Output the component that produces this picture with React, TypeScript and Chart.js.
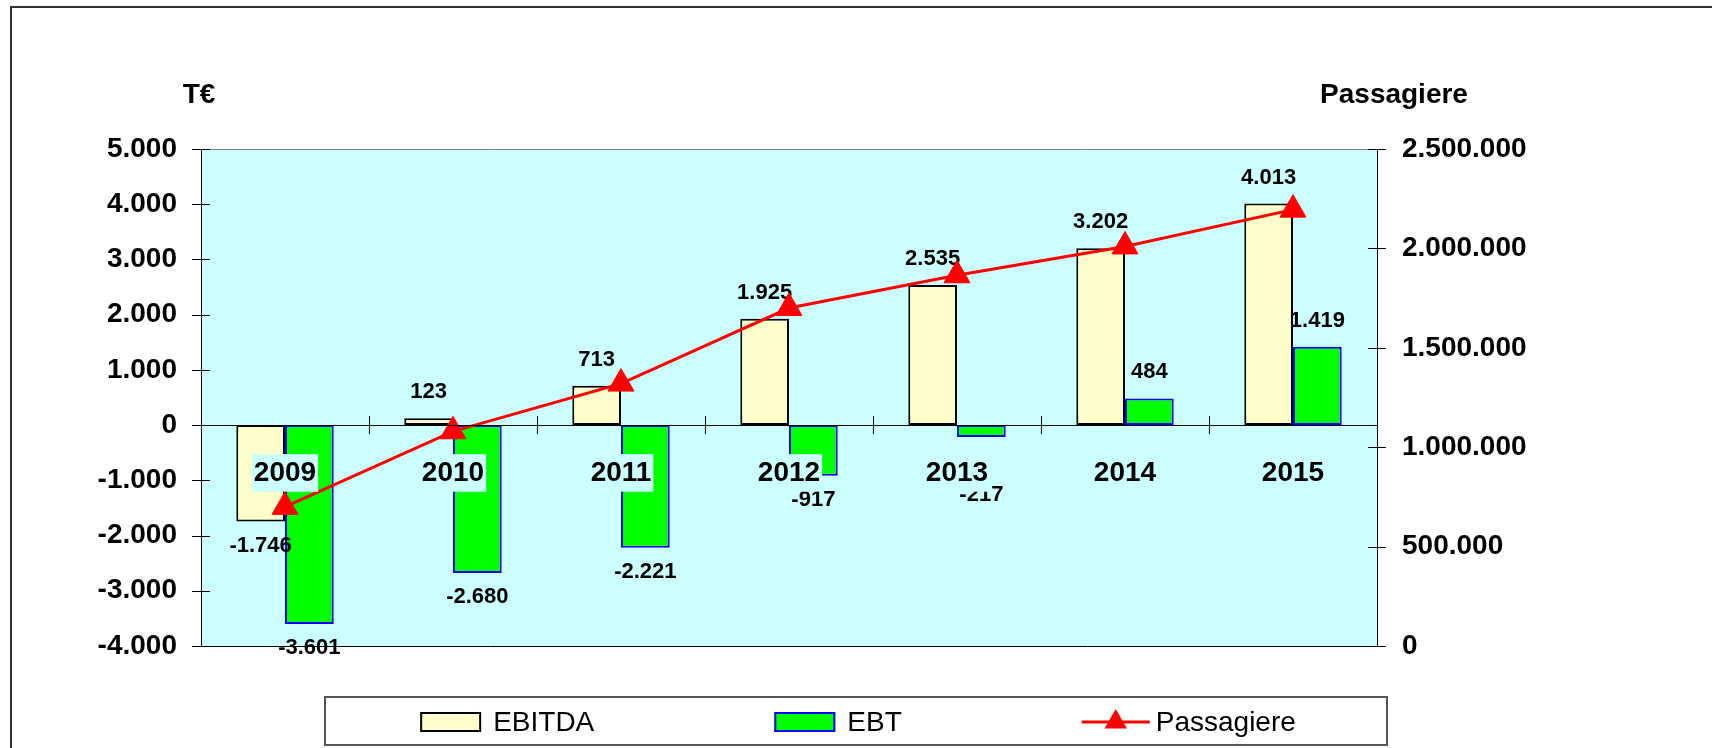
import React, { useEffect, useRef } from 'react';
import { Chart, registerables } from 'chart.js';

Chart.register(...registerables);

// ---- data ----
const categories = ['2009', '2010', '2011', '2012', '2013', '2014', '2015'];
const ebitda = [-1746, 123, 713, 1925, 2535, 3202, 4013];
const ebt = [-3601, -2680, -2221, -917, -217, 484, 1419];
const passagiere = [700000, 1080000, 1320000, 1700000, 1865000, 2010000, 2195000];
const leftAxisRange = [-4000, 5000, 1000];
const rightAxisRange = [0, 2500000, 500000];
const leftTitle = 'T€';
const rightTitle = 'Passagiere';

const FONT = '"Liberation Sans", Arial, Helvetica, sans-serif';
const PLOT_BG = '#CCFFFF';

function fmt(v: number): string {
  const s = Math.round(Math.abs(v)).toString().replace(/\B(?=(\d{3})+(?!\d))/g, '.');
  return (v < 0 ? '-' : '') + s;
}

const framePlugin = {
  id: 'frame',
  beforeDraw(chart: any) {
    const { ctx, chartArea: a, width, height } = chart;
    ctx.save();
    ctx.fillStyle = '#ffffff';
    ctx.fillRect(0, 0, width, height);
    ctx.strokeStyle = '#333333';
    ctx.lineWidth = 2;
    ctx.beginPath();
    ctx.moveTo(11, height + 5);
    ctx.lineTo(11, 7);
    ctx.lineTo(width + 5, 7);
    ctx.stroke();
    ctx.fillStyle = PLOT_BG;
    ctx.fillRect(a.left, a.top, a.right - a.left, a.bottom - a.top);
    ctx.restore();
  },
  afterDraw(chart: any) {
    const { ctx, chartArea: a, scales } = chart;
    ctx.save();
    // top border (gray) and bottom border (black)
    ctx.lineWidth = 1;
    ctx.strokeStyle = '#808080';
    ctx.beginPath();
    ctx.moveTo(a.left - 9, a.top + 0.5);
    ctx.lineTo(a.right + 9, a.top + 0.5);
    ctx.stroke();
    ctx.strokeStyle = '#000000';
    ctx.beginPath();
    ctx.moveTo(a.left - 9, a.bottom + 0.5);
    ctx.lineTo(a.right + 9, a.bottom + 0.5);
    ctx.stroke();
    // crossing tick marks
    const ys = scales.y;
    ys.ticks.forEach((_t: any, i: number) => {
      const py = Math.round(ys.getPixelForTick(i)) + 0.5;
      ctx.beginPath();
      ctx.moveTo(a.left - 9, py);
      ctx.lineTo(a.left + 9, py);
      ctx.stroke();
    });
    const yr = scales.y1;
    yr.ticks.forEach((_t: any, i: number) => {
      const py = Math.round(yr.getPixelForTick(i)) + 0.5;
      ctx.beginPath();
      ctx.moveTo(a.right - 9, py);
      ctx.lineTo(a.right + 9, py);
      ctx.stroke();
    });
    const xs = scales.x;
    const zeroY = ys.getPixelForValue(0);
    for (let i = 1; i < categories.length; i++) {
      const px = Math.round(xs.getPixelForValue(i - 0.5)) + 0.5;
      ctx.beginPath();
      ctx.moveTo(px, zeroY - 9);
      ctx.lineTo(px, zeroY + 9);
      ctx.stroke();
    }
    // axis titles
    ctx.fillStyle = '#000000';
    ctx.font = `bold 28px ${FONT}`;
    ctx.textAlign = 'center';
    ctx.textBaseline = 'middle';
    ctx.fillText(leftTitle, a.left - 2, a.top - 54);
    ctx.fillText(rightTitle, a.right + 17, a.top - 54);
    ctx.restore();
  },
};

const dataLabelPlugin = {
  id: 'dataLabels',
  afterDatasetDraw(chart: any, args: any) {
    const meta = args.meta;
    if (meta.type !== 'bar') return;
    const ds = chart.data.datasets[args.index];
    const zeroY = chart.scales.y.getPixelForValue(0);
    const ctx = chart.ctx;
    ctx.save();
    ctx.font = `bold 22px ${FONT}`;
    ctx.fillStyle = '#000000';
    ctx.textAlign = 'center';
    ctx.textBaseline = 'middle';
    meta.data.forEach((el: any, i: number) => {
      const v = ds.data[i] as number;
      const { x, y } = el.getProps(['x', 'y'], true);
      const ty = v >= 0 ? y - 26 : Math.max(y + 24, zeroY + 70);
      ctx.fillText(fmt(v), x, ty);
    });
    ctx.restore();
  },
};

const legendPlugin = {
  id: 'boxLegend',
  afterDraw(chart: any) {
    const { ctx, chartArea: a, width } = chart;
    const boxW = 1062;
    const boxH = 48;
    const cx = width / 2;
    const top = a.bottom + 51;
    const cy = top + 25;
    ctx.save();
    ctx.fillStyle = '#ffffff';
    ctx.fillRect(cx - boxW / 2, top, boxW, boxH);
    ctx.strokeStyle = '#555555';
    ctx.lineWidth = 2;
    ctx.strokeRect(cx - boxW / 2, top, boxW, boxH);
    ctx.font = `28px ${FONT}`;
    ctx.textBaseline = 'middle';
    ctx.textAlign = 'left';
    const swW = 61;
    const swH = 20;
    const lineW = 68;
    const gapText = 12;
    const gap = 180;
    const items = chart.data.datasets.map((ds: any) => {
      const isLine = ds.type === 'line';
      const symW = isLine ? lineW : swW;
      const tw = ctx.measureText(ds.label).width;
      return { ds, isLine, symW, tw, w: symW + (isLine ? 6 : gapText) + tw };
    });
    const total = items.reduce((s: number, it: any) => s + it.w, 0) + gap * (items.length - 1);
    let x = cx - total / 2 + 2;
    items.forEach((it: any) => {
      const ds = it.ds;
      if (it.isLine) {
        ctx.strokeStyle = ds.borderColor;
        ctx.lineWidth = 3;
        ctx.beginPath();
        ctx.moveTo(x, cy);
        ctx.lineTo(x + it.symW, cy);
        ctx.stroke();
        const tx = x + it.symW / 2;
        const r = 13;
        ctx.fillStyle = ds.pointBackgroundColor;
        ctx.beginPath();
        ctx.moveTo(tx, cy - r);
        ctx.lineTo(tx + r * 0.866, cy + r * 0.5);
        ctx.lineTo(tx - r * 0.866, cy + r * 0.5);
        ctx.closePath();
        ctx.fill();
      } else {
        ctx.fillStyle = ds.backgroundColor;
        ctx.fillRect(x, cy - swH / 2, swW, swH);
        ctx.strokeStyle = ds.borderColor;
        ctx.lineWidth = 2;
        ctx.strokeRect(x + 1, cy - swH / 2 + 1, swW - 2, swH - 2);
      }
      ctx.fillStyle = '#000000';
      ctx.fillText(ds.label, x + it.symW + (it.isLine ? 6 : gapText), cy + 1);
      x += it.w + gap;
    });
    ctx.restore();
  },
};

export default function App() {
  const ref = useRef<HTMLCanvasElement>(null);
  useEffect(() => {
    if (!ref.current) return;
    Chart.defaults.font.family = FONT;
    const tickFont = { family: FONT, size: 28, weight: 'bold' as const };
    const chart = new Chart(ref.current, {
      type: 'bar',
      data: {
        labels: categories,
        datasets: [
          {
            type: 'bar',
            label: 'EBITDA',
            data: ebitda,
            backgroundColor: '#FFFFCC',
            borderColor: '#000000',
            borderWidth: 2,
            borderSkipped: false,
            yAxisID: 'y',
            order: 1,
          },
          {
            type: 'bar',
            label: 'EBT',
            data: ebt,
            backgroundColor: '#00FF00',
            borderColor: '#0000FF',
            borderWidth: 2,
            borderSkipped: false,
            yAxisID: 'y',
            order: 1,
          },
          {
            type: 'line',
            label: 'Passagiere',
            data: passagiere,
            borderColor: '#FF0000',
            backgroundColor: '#FF0000',
            borderWidth: 3,
            pointStyle: 'triangle',
            pointRadius: 15,
            pointBackgroundColor: '#FF0000',
            pointBorderColor: '#FF0000',
            pointBorderWidth: 1,
            yAxisID: 'y1',
            order: 0,
            tension: 0,
          } as any,
        ],
      },
      options: {
        responsive: false,
        animation: false,
        devicePixelRatio: 1,
        layout: { padding: { left: 0, right: 0, top: 149, bottom: 102 } },
        plugins: {
          legend: { display: false },
          tooltip: { enabled: false },
        },
        datasets: { bar: { categoryPercentage: 0.58, barPercentage: 1 } },
        scales: {
          x: {
            position: { y: 0 } as any,
            grid: { display: false, drawTicks: false },
            border: { display: true, color: '#000000', width: 1, z: 1 } as any,
            ticks: {
              z: 1,
              padding: 31,
              color: '#000000',
              font: tickFont,
              showLabelBackdrop: true,
              backdropColor: PLOT_BG,
              backdropPadding: 2,
              maxRotation: 0,
              autoSkip: false,
            } as any,
          },
          y: {
            position: 'left',
            min: leftAxisRange[0],
            max: leftAxisRange[1],
            grid: { display: false, drawTicks: false },
            border: { display: true, color: '#000000', width: 1 },
            ticks: {
              stepSize: leftAxisRange[2],
              padding: 24,
              color: '#000000',
              font: tickFont,
              callback: (v: any) => fmt(Number(v)),
            },
            afterFit: (s: any) => {
              s.width = 201;
            },
          },
          y1: {
            position: 'right',
            min: rightAxisRange[0],
            max: rightAxisRange[1],
            grid: { display: false, drawTicks: false },
            border: { display: true, color: '#000000', width: 1 },
            ticks: {
              stepSize: rightAxisRange[2],
              padding: 25,
              color: '#000000',
              font: tickFont,
              callback: (v: any) => fmt(Number(v)),
            },
            afterFit: (s: any) => {
              s.width = 335;
            },
          },
        },
      },
      plugins: [framePlugin, dataLabelPlugin, legendPlugin],
    });
    return () => chart.destroy();
  }, []);
  return (
    <div style={{ position: 'fixed', left: 0, top: 0, width: 1712, height: 748, background: '#ffffff' }}>
      <canvas ref={ref} width={1712} height={748} style={{ display: 'block', width: 1712, height: 748 }} />
    </div>
  );
}
